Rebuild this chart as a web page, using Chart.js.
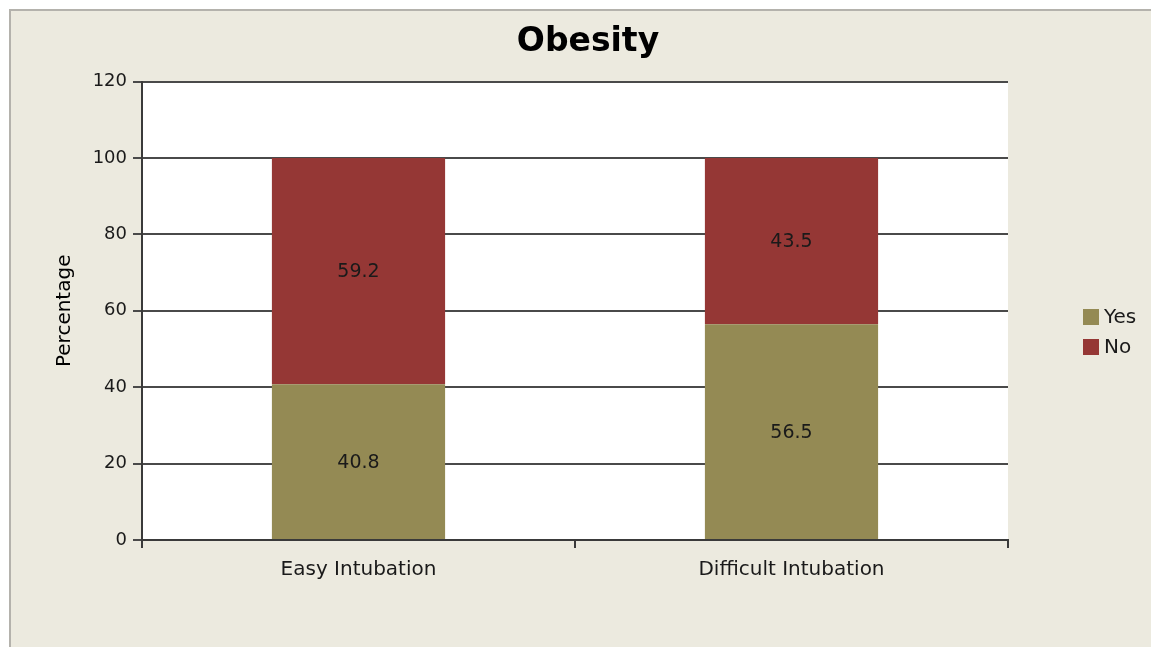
<!DOCTYPE html>
<html>
<head>
<meta charset="utf-8">
<script src="https://cdn.jsdelivr.net/npm/chart.js@4/dist/chart.umd.min.js"></script>
<style>
  html, body { margin: 0; padding: 0; background: #ffffff; }
  #frame {
    position: absolute; left: 0; top: 0; width: 1151px; height: 647px;
    overflow: hidden;
  }
  #panel {
    position: absolute; left: 9px; top: 9px; right: 0; bottom: 0;
    background: #ECEADF;
    border-top: 2px solid #B4B2AC;
    border-left: 2px solid #B4B2AC;
  }
  #chart { position: absolute; left: 0; top: 0; }
</style>
</head>
<body>
<div id="frame">
  <div id="panel"></div>
  <canvas id="chart" width="1151" height="647"></canvas>
</div>
<script>
// Obesity by intubation difficulty (percent)
const categories = ['Easy Intubation', 'Difficult Intubation'];
const seriesNames = ['Yes', 'No'];
const yesValues = [40.8, 56.5];
const noValues = [59.2, 43.5];
const yTicks = [0, 20, 40, 60, 80, 100, 120];

const FONT = 'DejaVu Sans, Tahoma, sans-serif';

// White plotting area behind the bars
const plotBackground = {
  id: 'plotBackground',
  beforeDraw(chart) {
    const { ctx, chartArea: a } = chart;
    ctx.save();
    ctx.fillStyle = '#ffffff';
    ctx.fillRect(a.left, a.top, a.right - a.left, a.bottom - a.top);
    ctx.restore();
  }
};

// Centre the title across the whole panel rather than the padded area
const titleSpan = {
  id: 'titleSpan',
  afterLayout(chart) {
    if (chart.titleBlock) {
      chart.titleBlock.left = 25;
      chart.titleBlock.right = 1151;
      chart.titleBlock.width = 1126;
    }
  }
};

// Value text centred inside each stacked segment
const segmentLabels = {
  id: 'segmentLabels',
  afterDatasetsDraw(chart) {
    const { ctx } = chart;
    ctx.save();
    ctx.font = '19px ' + FONT;
    ctx.fillStyle = '#1a1a1a';
    ctx.textAlign = 'center';
    ctx.textBaseline = 'middle';
    chart.data.datasets.forEach((ds, i) => {
      chart.getDatasetMeta(i).data.forEach((bar, j) => {
        const p = bar.getProps(['x', 'y', 'base'], true);
        ctx.fillText(ds.data[j].toFixed(1), p.x, (p.y + p.base) / 2 + 1);
      });
    });
    ctx.restore();
  }
};

// Legend to the right of the plot
const sideLegend = {
  id: 'sideLegend',
  afterDraw(chart) {
    const { ctx } = chart;
    const x = 1083, y0 = 317, step = 30, box = 16;
    ctx.save();
    ctx.font = '20px ' + FONT;
    ctx.textBaseline = 'middle';
    ctx.textAlign = 'left';
    chart.data.datasets.forEach((ds, i) => {
      const y = y0 + i * step;
      ctx.fillStyle = ds.backgroundColor;
      ctx.fillRect(x, y - box / 2, box, box);
      ctx.fillStyle = '#1a1a1a';
      ctx.fillText(ds.label, x + box + 5, y + 1);
    });
    ctx.restore();
  }
};

new Chart(document.getElementById('chart'), {
  type: 'bar',
  data: {
    labels: categories,
    datasets: [
      { label: seriesNames[0], data: yesValues, backgroundColor: '#948A54' },
      { label: seriesNames[1], data: noValues, backgroundColor: '#953735' }
    ]
  },
  options: {
    responsive: false,
    animation: false,
    devicePixelRatio: 1,
    layout: { padding: { left: 0, right: 143, top: 0, bottom: 0 } },
    datasets: { bar: { categoryPercentage: 1.0, barPercentage: 0.4 } },
    plugins: {
      legend: { display: false },
      tooltip: { enabled: false },
      title: {
        display: true,
        text: 'Obesity',
        color: '#000000',
        font: { family: FONT, size: 33, weight: 'bold', lineHeight: 1.2 },
        padding: { top: 23, bottom: 19 }
      }
    },
    scales: {
      x: {
        stacked: true,
        border: { display: true, color: '#3a3a3a', width: 2 },
        grid: {
          offset: true,
          drawOnChartArea: false,
          drawTicks: true,
          tickLength: 8,
          color: '#3a3a3a',
          lineWidth: 2
        },
        ticks: {
          color: '#1a1a1a',
          font: { family: FONT, size: 20 },
          padding: 10
        },
        afterFit(scale) { scale.height = 107; }
      },
      y: {
        stacked: true,
        min: 0,
        max: 120,
        afterBuildTicks(scale) { scale.ticks = yTicks.map(v => ({ value: v })); },
        border: { display: true, color: '#3a3a3a', width: 2 },
        grid: {
          color: '#4a4a4a',
          lineWidth: 2,
          drawTicks: true,
          tickLength: 9
        },
        ticks: {
          color: '#1a1a1a',
          font: { family: FONT, size: 18 },
          padding: 6
        },
        title: {
          display: true,
          text: 'Percentage',
          color: '#000000',
          font: { family: FONT, size: 20 },
          padding: { top: 53, bottom: 0 }
        },
        afterFit(scale) { scale.width = 142; }
      }
    }
  },
  plugins: [titleSpan, plotBackground, segmentLabels, sideLegend]
});
</script>
</body>
</html>
